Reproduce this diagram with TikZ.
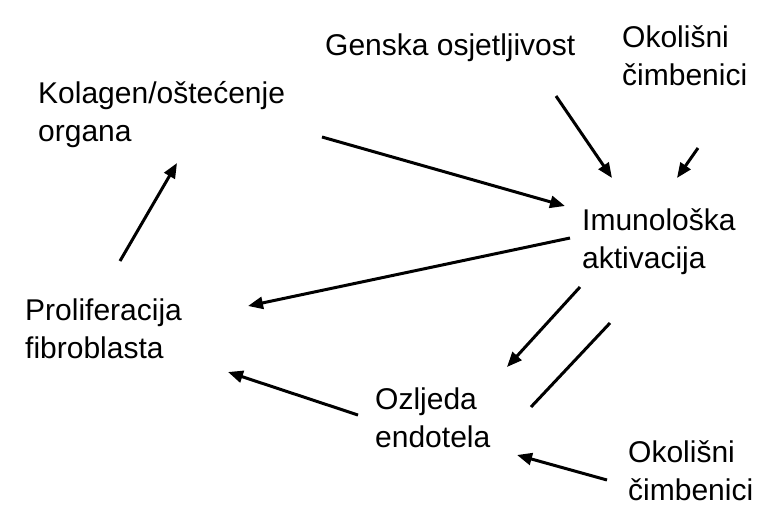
\documentclass[tikz,border=0pt]{standalone}
\usepackage{fontspec}
\setmainfont{Liberation Sans}
\usetikzlibrary{arrows.meta}
\newcommand\twoline[2]{\vtop{\baselineskip=38pt\lineskiplimit=-100pt\hbox{#1}\hbox{#2}}}
\begin{document}
\begin{tikzpicture}[x=1pt,y=-1pt,
  lbl/.style={anchor=base west, inner sep=0pt, font=\fontsize{30}{38}\selectfont},
  arr/.style={line width=3pt, -{Triangle[length=15pt,width=12pt]}},
  plainline/.style={line width=3pt}]
\useasboundingbox[fill=white] (0,0) rectangle (771,517);
% labels
\node[lbl] (kol) at (38,103) {\twoline{Kolagen/oštećenje}{organa}};
\node[lbl] (gen) at (325,55) {Genska osjetljivost};
\node[lbl] (ok1) at (622,47) {\twoline{Okolišni}{čimbenici}};
\node[lbl] (imu) at (582,230) {\twoline{Imunološka}{aktivacija}};
\node[lbl] (pro) at (25,320) {\twoline{Proliferacija}{fibroblasta}};
\node[lbl] (ozl) at (375,409) {\twoline{Ozljeda}{endotela}};
\node[lbl] (ok2) at (628,462) {\twoline{Okolišni}{čimbenici}};
% connector ends
\coordinate (proOut) at (120,261);
\coordinate (kolIn) at (177,163);
\coordinate (kolOut) at (322,137);
\coordinate (imuInA) at (565,206);
\coordinate (genOut) at (556,96);
\coordinate (imuInB) at (612,178);
\coordinate (ok1Out) at (698,148);
\coordinate (imuInC) at (677,178);
\coordinate (imuOutA) at (570,238);
\coordinate (proIn) at (248,306);
\coordinate (imuOutB) at (580,287);
\coordinate (ozlIn) at (507,367);
\coordinate (imuRet) at (610,323);
\coordinate (ozlRet) at (531,407);
\coordinate (ozlOut) at (358,415);
\coordinate (proInB) at (228,372);
\coordinate (ok2Out) at (607,480);
\coordinate (ozlInB) at (517,455);
% connectors
\draw[arr] (proOut) -- (kolIn);
\draw[arr] (kolOut) -- (imuInA);
\draw[arr] (genOut) -- (imuInB);
\draw[arr] (ok1Out) -- (imuInC);
\draw[arr] (imuOutA) -- (proIn);
\draw[arr] (imuOutB) -- (ozlIn);
\draw[plainline] (imuRet) -- (ozlRet);
\draw[arr] (ozlOut) -- (proInB);
\draw[arr] (ok2Out) -- (ozlInB);
\end{tikzpicture}
\end{document}
